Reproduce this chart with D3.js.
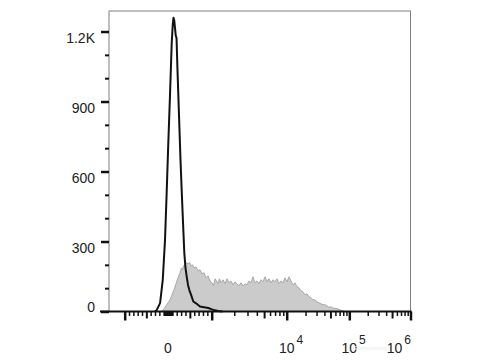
<!DOCTYPE html>
<html>
<head>
<meta charset="utf-8">
<script src="https://cdn.jsdelivr.net/npm/d3@7"></script>
<style>
  body { margin: 0; background: #fff; }
  text { font-family: "Liberation Sans", Arial, sans-serif; fill: #222; }
</style>
</head>
<body>
<div id="chart"></div>
<script>
// control (unstained) histogram - black line
var controlValues = [-297, -259, -183, -121, -69, -30, 7, 46, 85, 110, 126, 144, 160, 178, 195, 217,
  240, 263, 286, 313, 343, 373, 400, 428, 458, 487, 526, 579, 641, 732, 824, 922, 1009, 1107, 1213, 1395];
var controlCounts = [0, 7, 36, 136, 307, 513, 723, 928, 1151, 1232, 1259, 1246, 1216, 1182, 1173, 1036,
  907, 778, 650, 521, 384, 252, 187, 149, 114, 93, 72, 43, 35, 21, 18, 15, 9, 5, 2, 0];

// stained histogram - grey fill
var stainedValues = [-144, -92, -46, 0, 46, 92, 137, 183, 229, 275,
  309, 332, 355, 389, 423, 458, 492, 526, 561, 595,
  641, 686, 732, 778, 824, 869, 915, 961, 1009, 1057,
  1107, 1159, 1213, 1271, 1331, 1415, 1504, 1600, 1701, 1808,
  1922, 2045, 2174, 2311, 2458, 2613, 2778, 2954, 3141, 3339,
  3551, 3775, 4014, 4271, 4539, 4826, 5140, 5458, 5808, 6174,
  6561, 6982, 7425, 7889, 8395, 8933, 9484, 10110, 10880, 11710,
  12610, 13570, 14610, 15720, 16920, 18210, 19610, 21100, 22710, 24450,
  26320, 28330, 30480, 32810, 35310, 38010, 40910, 44040, 47400, 51030,
  54910, 59110, 63620, 68480, 73700, 79340, 85380];
var stainedCounts = [0, 12, 24, 37, 50, 71, 93, 119, 144, 166,
  187, 178, 196, 200, 209, 204, 211, 196, 200, 187,
  191, 174, 179, 162, 166, 144, 153, 131, 123, 110,
  140, 131, 119, 140, 123, 136, 119, 140, 123, 131,
  114, 127, 119, 110, 123, 110, 119, 114, 131, 123,
  149, 123, 131, 119, 136, 127, 149, 127, 140, 123,
  136, 127, 140, 119, 131, 123, 144, 127, 149, 131,
  114, 123, 106, 101, 89, 84, 71, 76, 63, 59,
  50, 50, 42, 37, 33, 29, 29, 24, 18, 20,
  14, 14, 12, 9, 5, 3, 0];

// axis ticks
var yMajorTicks = [0, 300, 600, 900, 1200];
var yMinorTicks = [100, 200, 400, 500, 700, 800, 1000, 1100];
var yTickLabels = ["0", "300", "600", "900", "1.2K"];
var xMajorTicks = [-1000, 1000, 10000, 100000, 1000000];
var xMediumTicks = [-500, 500, 5000, 50000, 500000];
var xLabelValues = [0, 10000, 100000, 1000000];
var xLabelBase = ["0", "10", "10", "10"];
var xLabelExp = ["", "4", "5", "6"];

var svgWidth = 480;
var svgHeight = 360;
var margin = { top: 11, right: 69.5, bottom: 48.5, left: 109 };
var width = svgWidth - margin.left - margin.right;
var height = svgHeight - margin.top - margin.bottom;

var svg = d3.select("#chart")
  .append("svg")
  .attr("width", svgWidth)
  .attr("height", svgHeight);

var chartGroup = svg.append("g")
  .attr("transform", `translate(${margin.left}, ${margin.top})`);

// biexponential-like display: linear within +-1000, log decades outside
function toU(v) {
  var a = Math.abs(v);
  var u = a <= 1000 ? a / 1000 : 1 + Math.log10(a / 1000);
  return v < 0 ? -u : u;
}

var xScale = d3.scaleLinear()
  .domain([-1, 0, 1, 2, 3, 4])
  .range([15.7, 59, 102.7, 177.7, 240.3, 301.5]);

var yScale = d3.scaleLinear()
  .domain([0, 1288])
  .range([height, 0]);

// minor x ticks: 10..90, 100..900, 2000..9000 etc
var xMinorTicks = [];
[10, 100].forEach(function(base) {
  for (var k = 1; k <= 9; k++) {
    if (base === 100 && k === 5) continue;
    xMinorTicks.push(k * base, -k * base);
  }
});
[1000, 10000, 100000].forEach(function(base) {
  for (var k = 2; k <= 9; k++) {
    if (k === 5) continue;
    xMinorTicks.push(k * base);
  }
});

var stained = stainedValues.map((v, i) => ({ v: v, c: stainedCounts[i] }));
var control = controlValues.map((v, i) => ({ v: v, c: controlCounts[i] }));

// grey histogram
var area = d3.area()
  .x(d => xScale(toU(d.v)))
  .y0(yScale(0))
  .y1(d => yScale(d.c));

chartGroup.append("path")
  .datum(stained)
  .attr("d", area)
  .attr("fill", "#cbcbcb")
  .attr("stroke", "#a8a8a8")
  .attr("stroke-width", 1);

// black control line
var line = d3.line()
  .x(d => xScale(toU(d.v)))
  .y(d => yScale(d.c));

chartGroup.append("path")
  .datum(control)
  .attr("d", line)
  .attr("fill", "none")
  .attr("stroke", "#111")
  .attr("stroke-width", 2)
  .attr("stroke-linejoin", "round");

// frame
chartGroup.append("rect")
  .attr("x", 0)
  .attr("y", 0)
  .attr("width", width)
  .attr("height", height)
  .attr("fill", "none")
  .attr("stroke", "#808080")
  .attr("stroke-width", 1);

// y axis ticks
function drawTicks(axis, g, w) {
  g.call(axis);
  g.select(".domain").remove();
  g.selectAll("line").attr("stroke", "#111").attr("stroke-width", w);
}

drawTicks(d3.axisLeft(yScale).tickValues(yMajorTicks).tickSize(8).tickFormat(""),
  chartGroup.append("g"), 2.5);
drawTicks(d3.axisLeft(yScale).tickValues(yMinorTicks).tickSize(4).tickFormat(""),
  chartGroup.append("g"), 2);

chartGroup.selectAll(".ylabel")
  .data(yMajorTicks)
  .enter()
  .append("text")
  .attr("class", "ylabel")
  .attr("x", -14)
  .attr("y", d => yScale(d) + (d === 0 ? 0 : 11))
  .attr("text-anchor", "end")
  .attr("font-size", "14px")
  .text((d, i) => yTickLabels[i]);

// x axis
var xAxisG = chartGroup.append("g").attr("transform", `translate(0, ${height})`);
drawTicks(d3.axisBottom(xScale).tickValues(xMajorTicks.map(toU)).tickSize(9).tickFormat(""),
  xAxisG.append("g"), 2.5);
drawTicks(d3.axisBottom(xScale).tickValues(xMediumTicks.map(toU)).tickSize(7).tickFormat(""),
  xAxisG.append("g"), 2);
drawTicks(d3.axisBottom(xScale).tickValues(xMinorTicks.map(toU)).tickSize(4.5).tickFormat(""),
  xAxisG.append("g"), 1.5);

chartGroup.append("line")
  .attr("x1", -9)
  .attr("x2", width + 1)
  .attr("y1", height)
  .attr("y2", height)
  .attr("stroke", "#111")
  .attr("stroke-width", 2);

var xLabels = xAxisG.selectAll(".xlabel")
  .data(xLabelValues)
  .enter()
  .append("text")
  .attr("class", "xlabel")
  .attr("font-size", "14px")
  .attr("y", 41.5)
  .attr("x", function(d, i) {
    var cx = Math.min(xScale(toU(d)), width - 16);
    return xLabelExp[i] ? cx - 7.8 : cx;
  })
  .attr("text-anchor", (d, i) => xLabelExp[i] ? "start" : "middle")
  .text((d, i) => xLabelBase[i]);

xLabels.append("tspan")
  .attr("dx", 2)
  .attr("dy", -9.5)
  .attr("font-size", "12px")
  .text((d, i) => xLabelExp[i]);

// faint watermark
svg.append("text")
  .attr("x", 354)
  .attr("y", 350)
  .attr("font-size", "6px")
  .style("fill", "#ececec")
  .text("Elabscience");
</script>
</body>
</html>
